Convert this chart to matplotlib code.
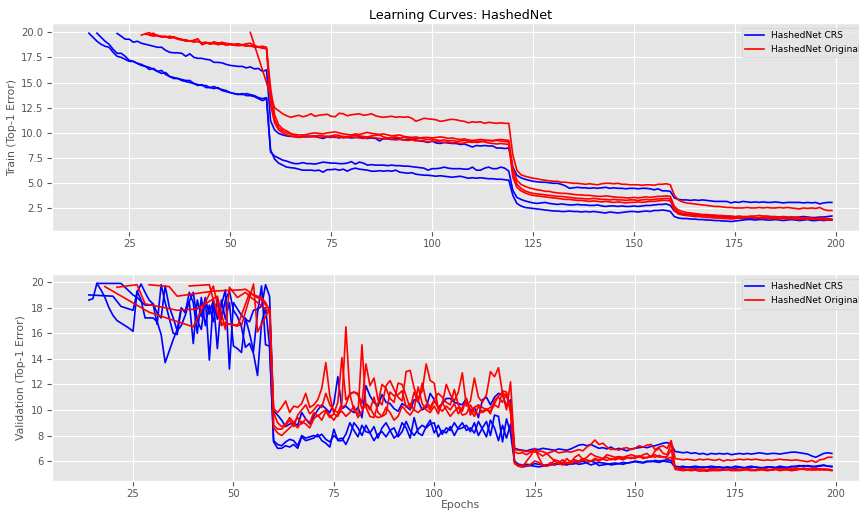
import numpy as np
import matplotlib.pyplot as plt

plt.style.use('ggplot')

N = None  # epoch where the error was above 20 and got dropped

# ---- train (top-1 error), one value per epoch, starting at *_start ----
train_crs_start = [15, 17, 22]
train_crs = [
    [19.9, 19.5, 19.1, 18.8, 18.6,
     18.5, 18.0, 17.6, 17.5, 17.3, 17.1, 17.1, 16.9, 16.7, 16.6,
     16.3, 16.4, 16.1, 15.9, 16.0, 15.6, 15.5, 15.4, 15.2, 15.1,
     15.0, 14.9, 14.8, 14.7, 14.7, 14.5, 14.4, 14.5, 14.2, 14.1,
     14.0, 13.9, 13.8, 13.9, 13.7, 13.7, 13.6, 13.4, 13.2, 13.4,
     8.3, 7.4, 7.0, 6.8, 6.6, 6.55, 6.5, 6.4, 6.3, 6.3,
     6.3, 6.25, 6.3, 6.1, 6.35, 6.35, 6.4, 6.3, 6.4, 6.2,
     6.4, 6.5, 6.4, 6.35, 6.3, 6.2, 6.2, 6.25, 6.2, 6.25,
     6.2, 6.3, 6.1, 6.05, 6.0, 6.05, 5.9, 5.85, 5.8, 5.8,
     5.75, 5.7, 5.75, 5.7, 5.65, 5.6, 5.65, 5.7, 5.6, 5.5,
     5.55, 5.5, 5.55, 5.5, 5.45, 5.45, 5.4, 5.4, 5.35, 5.3,
     3.8, 3.0, 2.75, 2.6, 2.55, 2.5, 2.45, 2.4, 2.35, 2.3,
     2.25, 2.25, 2.2, 2.2, 2.25, 2.2, 2.2, 2.15, 2.2, 2.15,
     2.2, 2.15, 2.1, 2.05, 2.15, 2.1, 2.05, 2.1, 2.15, 2.2,
     2.2, 2.15, 2.2, 2.25, 2.2, 2.3, 2.3, 2.35, 2.3, 2.2,
     1.7, 1.55, 1.5, 1.5, 1.45, 1.45, 1.4, 1.4, 1.35, 1.35,
     1.3, 1.3, 1.25, 1.25, 1.2, 1.25, 1.3, 1.35, 1.4, 1.4,
     1.35, 1.4, 1.4, 1.35, 1.35, 1.4, 1.35, 1.3, 1.35, 1.4,
     1.35, 1.3, 1.35, 1.4, 1.3, 1.3, 1.35, 1.3, 1.35, 1.35],
    [19.9, 19.5, 19.1,
     18.8, 18.3, 17.9, 17.9, 17.6, 17.2, 17.1, 16.9, 16.8, 16.6,
     16.5, 16.3, 16.1, 16.2, 15.8, 15.6, 15.4, 15.4, 15.3, 15.2,
     15.2, 14.9, 14.7, 14.8, 14.5, 14.5, 14.6, 14.4, 14.3, 14.2,
     14.0, 13.9, 13.85, 13.8, 13.9, 13.8, 13.7, 13.5, 13.4, 13.5,
     8.1, 7.7, 7.5, 7.3, 7.2, 7.05, 6.95, 6.95, 7.05, 6.95,
     6.95, 6.9, 7.0, 7.1, 7.05, 7.0, 7.0, 6.95, 6.95, 7.0,
     7.15, 6.9, 7.1, 7.0, 6.8, 6.85, 6.8, 6.8, 6.8, 6.75,
     6.8, 6.75, 6.75, 6.7, 6.7, 6.65, 6.6, 6.55, 6.5, 6.3,
     6.45, 6.45, 6.5, 6.6, 6.5, 6.45, 6.45, 6.45, 6.4, 6.4,
     6.6, 6.3, 6.3, 6.5, 6.6, 6.45, 6.45, 6.6, 6.5, 6.2,
     4.3, 3.6, 3.4, 3.25, 3.15, 3.05, 3.0, 3.05, 3.1, 3.0,
     2.95, 2.9, 2.95, 2.9, 2.85, 2.85, 2.9, 2.85, 2.85, 2.8,
     2.8, 2.85, 2.75, 2.7, 2.75, 2.75, 2.7, 2.75, 2.7, 2.7,
     2.75, 2.7, 2.75, 2.8, 2.8, 2.85, 2.9, 2.9, 2.95, 2.8,
     2.25, 2.05, 1.95, 1.9, 1.9, 1.85, 1.85, 1.8, 1.8, 1.8,
     1.75, 1.75, 1.7, 1.7, 1.7, 1.65, 1.55, 1.5, 1.5, 1.5,
     1.55, 1.5, 1.55, 1.6, 1.55, 1.6, 1.6, 1.65, 1.6, 1.65,
     1.6, 1.65, 1.7, 1.65, 1.6, 1.6, 1.65, 1.65, 1.7, 1.75],
    [19.87, 19.6, 19.3, 19.3, 19.0, 19.1, 18.9, 18.8,
     18.7, 18.6, 18.5, 18.5, 18.2, 18.0, 17.95, 17.95, 17.9, 17.6,
     17.85, 17.5, 17.4, 17.4, 17.3, 17.25, 17.0, 17.0, 16.95, 16.8,
     16.7, 16.65, 16.6, 16.6, 16.45, 16.55, 16.35, 16.4, 16.1, 16.25,
     11.2, 10.3, 9.95, 9.8, 9.7, 9.65, 9.65, 9.6, 9.65, 9.6,
     9.65, 9.7, 9.55, 9.45, 9.6, 9.55, 9.6, 9.5, 9.65, 9.55,
     9.5, 9.55, 9.6, 9.5, 9.45, 9.5, 9.45, 9.2, 9.45, 9.4,
     9.35, 9.45, 9.4, 9.3, 9.35, 9.4, 9.3, 9.2, 9.15, 9.05,
     9.2, 9.0, 8.95, 9.05, 9.0, 8.95, 8.95, 8.85, 8.9, 8.75,
     8.6, 8.75, 8.7, 8.75, 8.7, 8.7, 8.5, 8.5, 8.45, 8.5,
     6.6, 5.8, 5.55, 5.4, 5.3, 5.2, 5.15, 5.1, 5.1, 5.05,
     5.0, 5.0, 4.9, 4.75, 4.5, 4.55, 4.6, 4.55, 4.55, 4.5,
     4.55, 4.5, 4.55, 4.6, 4.5, 4.55, 4.5, 4.5, 4.45, 4.5,
     4.5, 4.45, 4.5, 4.5, 4.45, 4.35, 4.45, 4.25, 4.25, 4.2,
     3.55, 3.4, 3.35, 3.35, 3.3, 3.35, 3.3, 3.35, 3.3, 3.25,
     3.2, 3.2, 3.2, 3.2, 3.05, 3.15, 3.1, 3.2, 3.15, 3.1,
     3.15, 3.1, 3.15, 3.1, 3.1, 3.15, 3.1, 3.05, 3.1, 3.1,
     3.1, 3.1, 3.05, 3.1, 3.05, 3.1, 2.95, 3.05, 3.1, 3.1],
]

train_orig_start = [55, 28, 29, 30]
train_orig = [
    [19.97, N, N, N, N,
     N, 12.5, 12.2, 11.9, 11.7, 11.55, 11.65, 11.75, 11.6, 11.7,
     11.9, 11.65, 11.75, 11.8, 11.85, 11.65, 11.6, 11.95, 11.9, 11.7,
     11.8, 11.85, 11.9, 11.75, 11.8, 11.9, 11.7, 11.6, 11.55, 11.6,
     11.65, 11.55, 11.6, 11.55, 11.6, 11.45, 11.15, 11.3, 11.45, 11.4,
     11.35, 11.3, 11.15, 11.2, 11.3, 11.35, 11.3, 11.2, 11.15, 11.0,
     11.1, 11.05, 11.1, 10.95, 11.05, 11.0, 10.95, 11.0, 10.95, 10.95,
     7.8, 6.3, 5.85, 5.7, 5.6, 5.5, 5.45, 5.35, 5.3, 5.25,
     5.2, 5.2, 5.1, 5.1, 5.05, 5.0, 5.0, 4.95, 4.9, 4.95,
     4.9, 4.85, 4.95, 5.0, 5.0, 4.95, 5.0, 4.9, 4.9, 4.85,
     4.85, 4.85, 4.8, 4.85, 4.85, 4.8, 4.9, 4.9, 4.95, 4.85,
     3.8, 3.35, 3.15, 3.05, 3.0, 2.95, 2.9, 2.85, 2.8, 2.75,
     2.7, 2.7, 2.65, 2.6, 2.6, 2.55, 2.55, 2.55, 2.6, 2.55,
     2.55, 2.6, 2.55, 2.6, 2.55, 2.55, 2.6, 2.55, 2.6, 2.55,
     2.5, 2.45, 2.55, 2.5, 2.55, 2.5, 2.6, 2.4, 2.3, 2.3],
    [19.7, 19.85,
     19.95, 19.7, 19.65, 19.6, 19.5, 19.6, 19.5, 19.4, 19.3, 19.15,
     19.1, 19.2, 19.35, 18.75, 18.9, 18.95, 18.85, 18.9, 19.0, 18.85,
     18.85, 18.8, 18.8, 18.75, 18.85, 18.9, 18.6, 18.55, 18.6, 18.5,
     13.5, 11.3, 10.5, 10.2, 10.0, 9.9, 9.85, 9.8, 9.8, 9.85,
     9.95, 10.0, 9.95, 9.9, 10.0, 10.05, 10.1, 10.0, 9.9, 9.85,
     9.8, 9.9, 9.85, 9.95, 10.05, 9.95, 9.9, 9.85, 9.9, 9.8,
     9.7, 9.75, 9.8, 9.65, 9.6, 9.55, 9.6, 9.5, 9.55, 9.55,
     9.5, 9.55, 9.6, 9.55, 9.45, 9.5, 9.4, 9.35, 9.4, 9.3,
     9.25, 9.3, 9.35, 9.3, 9.25, 9.25, 9.3, 9.35, 9.3, 9.25,
     6.5, 5.3, 4.9, 4.7, 4.55, 4.45, 4.35, 4.3, 4.2, 4.2,
     4.1, 4.05, 4.0, 4.0, 3.95, 3.9, 3.85, 3.85, 3.8, 3.8,
     3.75, 3.7, 3.7, 3.75, 3.7, 3.65, 3.6, 3.6, 3.55, 3.55,
     3.6, 3.55, 3.6, 3.65, 3.6, 3.65, 3.7, 3.7, 3.75, 3.7,
     2.7, 2.35, 2.2, 2.1, 2.05, 2.0, 1.95, 1.9, 1.9, 1.85,
     1.85, 1.8, 1.8, 1.75, 1.75, 1.7, 1.75, 1.7, 1.7, 1.75,
     1.75, 1.8, 1.75, 1.75, 1.7, 1.7, 1.65, 1.7, 1.65, 1.6,
     1.65, 1.6, 1.55, 1.6, 1.55, 1.5, 1.55, 1.5, 1.5, 1.45],
    [19.8,
     19.75, 19.9, 19.6, 19.55, 19.6, 19.45, 19.55, 19.35, 19.2, 19.25,
     19.1, 19.15, 19.05, 18.95, 19.0, 18.85, 19.05, 18.9, 18.8, 18.9,
     18.8, 18.75, 18.85, 18.7, 18.75, 18.6, 18.7, 18.5, 18.45, 18.4,
     14.5, 11.8, 10.8, 10.4, 10.2, 9.95, 9.75, 9.6, 9.65, 9.7,
     9.6, 9.65, 9.75, 9.7, 9.65, 9.7, 9.8, 9.75, 9.6, 9.65,
     9.7, 9.75, 9.7, 9.65, 9.6, 9.7, 9.75, 9.8, 9.6, 9.5,
     9.55, 9.6, 9.5, 9.55, 9.5, 9.4, 9.45, 9.5, 9.4, 9.35,
     9.4, 9.3, 9.25, 9.3, 9.2, 9.25, 9.15, 9.2, 9.25, 9.2,
     9.15, 9.05, 9.1, 9.2, 9.25, 9.2, 9.25, 9.2, 9.15, 9.1,
     6.0, 4.9, 4.5, 4.25, 4.1, 4.0, 3.95, 3.9, 3.85, 3.8,
     3.75, 3.7, 3.7, 3.65, 3.6, 3.55, 3.5, 3.5, 3.45, 3.45,
     3.5, 3.45, 3.4, 3.4, 3.35, 3.4, 3.35, 3.35, 3.3, 3.35,
     3.35, 3.3, 3.35, 3.4, 3.35, 3.4, 3.45, 3.45, 3.5, 3.45,
     2.5, 2.15, 2.0, 1.95, 1.9, 1.85, 1.8, 1.8, 1.75, 1.75,
     1.7, 1.65, 1.65, 1.6, 1.6, 1.55, 1.6, 1.55, 1.6, 1.6,
     1.55, 1.6, 1.65, 1.6, 1.6, 1.55, 1.6, 1.55, 1.5, 1.55,
     1.5, 1.55, 1.5, 1.45, 1.5, 1.45, 1.4, 1.45, 1.4, 1.4],
    [19.7, 19.6, 19.7, 19.5, 19.55, 19.4, 19.45, 19.3, 19.25, 19.1,
     19.15, 19.0, 19.1, 18.9, 18.95, 18.8, 18.9, 18.75, 18.85, 18.7,
     18.75, 18.7, 18.65, 18.7, 18.6, 18.65, 18.5, 18.55, 18.4, 18.35,
     12.8, 11.0, 10.3, 10.0, 9.8, 9.7, 9.6, 9.55, 9.6, 9.65,
     9.7, 9.6, 9.55, 9.6, 9.65, 9.6, 9.55, 9.6, 9.5, 9.55,
     9.6, 9.55, 9.5, 9.45, 9.5, 9.55, 9.5, 9.45, 9.4, 9.45,
     9.35, 9.3, 9.35, 9.3, 9.25, 9.3, 9.2, 9.25, 9.2, 9.1,
     9.15, 9.2, 9.1, 9.05, 9.1, 9.0, 9.05, 8.95, 9.0, 9.1,
     9.05, 9.15, 9.2, 9.1, 9.0, 8.95, 8.9, 8.95, 8.9, 8.85,
     5.6, 4.6, 4.25, 4.05, 3.9, 3.8, 3.75, 3.7, 3.65, 3.6,
     3.55, 3.5, 3.45, 3.4, 3.4, 3.35, 3.3, 3.3, 3.25, 3.2,
     3.25, 3.2, 3.15, 3.2, 3.15, 3.1, 3.15, 3.1, 3.05, 3.1,
     3.1, 3.15, 3.1, 3.15, 3.2, 3.2, 3.25, 3.3, 3.3, 3.25,
     2.3, 1.95, 1.85, 1.8, 1.75, 1.7, 1.7, 1.65, 1.6, 1.6,
     1.55, 1.55, 1.5, 1.5, 1.45, 1.5, 1.55, 1.6, 1.6, 1.65,
     1.6, 1.55, 1.5, 1.55, 1.5, 1.5, 1.45, 1.5, 1.45, 1.5,
     1.45, 1.4, 1.45, 1.5, 1.45, 1.4, 1.45, 1.35, 1.4, 1.4],
]

# ---- validation (top-1 error) ----
val_crs_start = [14, 14, 16]
val_crs = [
    [18.6, 18.7, 19.9, N, N, N,
     N, N, 19.9, 19.6, 19.3, 19.0, 18.8, 18.5, 18.2, 18.2,
     18.3, 17.6, 17.2, 19.7, 18.1, 17.2, 16.2, 16.6, 17.4, 18.5,
     19.2, 17.0, 16.3, 18.7, 17.5, 18.6, 17.1, 18.2, 19.4, 13.2,
     18.4, 17.9, 17.4, 17.1, 16.9, 17.8, 17.9, 18.1, 19.8, 18.9,
     9.9, 9.6, 9.2, 8.7, 8.9, 9.0, 8.8, 9.8, 9.3, 8.9,
     9.5, 10.0, 10.4, 10.1, 9.8, 10.5, 12.6, 10.1, 10.3, 10.0,
     9.8, 10.2, 9.4, 11.9, 11.1, 10.6, 10.3, 11.2, 10.6, 10.5,
     10.1, 9.9, 10.5, 10.3, 10.0, 10.8, 10.7, 10.0, 10.2, 11.3,
     10.8, 10.2, 10.5, 10.9, 10.9, 10.6, 10.5, 10.4, 10.9, 9.9,
     10.2, 9.4, 10.8, 11.0, 10.4, 11.0, 11.3, 11.2, 10.3, 10.8,
     7.0, 6.9, 6.85, 6.8, 6.9, 6.95, 6.9, 7.0, 6.95, 6.9,
     6.85, 6.95, 6.9, 6.85, 6.95, 7.1, 7.25, 7.3, 7.2, 7.3,
     7.15, 7.0, 7.05, 6.95, 7.1, 6.9, 7.0, 6.9, 6.8, 6.95,
     7.0, 7.05, 7.1, 7.05, 7.15, 7.2, 7.3, 7.4, 7.45, 7.3,
     6.75, 6.7, 6.65, 6.7, 6.6, 6.65, 6.55, 6.6, 6.5, 6.6,
     6.55, 6.6, 6.55, 6.6, 6.5, 6.55, 6.6, 6.55, 6.6, 6.55,
     6.6, 6.65, 6.6, 6.55, 6.6, 6.6, 6.55, 6.6, 6.65, 6.7,
     6.7, 6.65, 6.6, 6.55, 6.4, 6.3, 6.45, 6.6, 6.65, 6.6],
    [19.0, N, N, N, N, N,
     18.9, 18.5, 18.1, 18.0, 17.9, 17.8, 19.2, 19.85, 19.2, 18.6,
     18.3, 16.7, 19.8, 18.4, 17.2, 16.0, 15.9, 17.9, 17.8, 18.5,
     15.2, 18.6, 17.3, 18.8, 13.9, 18.6, 14.8, 18.6, 17.1, 18.4,
     15.0, 14.8, 14.5, 17.2, 16.0, 14.6, 17.6, 19.7, 15.1, 15.0,
     7.6, 7.3, 7.2, 7.5, 7.7, 7.6, 7.2, 8.0, 7.8, 7.9,
     8.0, 7.9, 8.1, 7.7, 7.5, 8.0, 7.7, 7.8, 7.3, 8.0,
     9.0, 8.6, 8.0, 8.8, 8.2, 7.6, 8.1, 8.3, 7.9, 8.4,
     8.6, 7.9, 8.3, 9.1, 8.4, 8.0, 8.5, 8.8, 8.6, 8.9,
     9.0, 7.9, 8.4, 8.2, 8.7, 8.0, 8.6, 9.0, 8.4, 8.6,
     8.2, 9.1, 8.5, 7.9, 9.2, 8.6, 7.6, 8.8, 7.8, 8.9,
     6.0, 5.75, 5.7, 5.75, 5.7, 5.8, 5.75, 5.7, 5.65, 5.7,
     5.8, 5.75, 5.9, 5.85, 5.75, 5.8, 5.9, 6.0, 5.85, 5.7,
     5.8, 5.9, 5.85, 5.8, 5.7, 5.75, 5.8, 5.9, 5.85, 5.9,
     5.95, 5.9, 5.85, 5.95, 6.0, 5.95, 5.9, 6.0, 5.95, 5.9,
     5.5, 5.45, 5.5, 5.55, 5.5, 5.45, 5.5, 5.55, 5.5, 5.45,
     5.5, 5.55, 5.5, 5.55, 5.5, 5.6, 5.55, 5.5, 5.45, 5.5,
     5.55, 5.5, 5.45, 5.5, 5.55, 5.5, 5.6, 5.55, 5.5, 5.55,
     5.6, 5.65, 5.6, 5.65, 5.6, 5.55, 5.6, 5.65, 5.6, 5.55],
    [19.9, 19.4, 18.8, 18.0,
     17.4, 17.0, 16.8, 16.6, 16.4, 16.15, 19.3, 18.6, 17.2, 17.2,
     17.2, 16.9, 15.9, 13.7, 14.6, 15.5, 16.3, 18.0, 17.6, 19.2,
     18.4, 16.0, 18.8, 16.6, 18.2, 16.9, 18.7, 17.1, 18.6, 19.3,
     17.8, 17.3, 16.5, 14.9, 15.2, 14.4, 12.7, 16.8, 18.0, 15.0,
     7.5, 7.0, 7.0, 7.2, 7.1, 7.3, 7.0, 7.9, 7.6, 7.7,
     7.8, 8.1, 7.6, 7.4, 7.1, 8.5, 7.6, 7.6, 8.1, 9.0,
     8.4, 7.9, 8.8, 8.3, 8.2, 8.7, 7.8, 8.6, 9.0, 8.4,
     7.8, 8.1, 9.0, 8.6, 7.8, 9.4, 8.2, 8.0, 8.7, 9.2,
     8.2, 8.8, 8.1, 8.6, 8.4, 9.0, 8.5, 8.6, 8.8, 8.3,
     9.0, 8.0, 8.6, 9.1, 8.0, 9.6, 9.5, 7.5, 9.3, 8.2,
     5.9, 5.6, 5.55, 5.6, 5.65, 5.6, 5.55, 5.6, 5.7, 5.75,
     5.7, 5.8, 5.75, 5.7, 5.8, 5.85, 5.75, 5.8, 5.9, 6.0,
     5.9, 5.65, 5.7, 5.75, 5.8, 5.85, 5.8, 5.75, 5.85, 5.9,
     6.0, 5.95, 5.9, 6.0, 5.95, 6.05, 6.0, 6.05, 6.1, 6.05,
     5.6, 5.55, 5.6, 5.5, 5.55, 5.6, 5.55, 5.5, 5.55, 5.6,
     5.55, 5.5, 5.45, 5.5, 5.4, 5.45, 5.5, 5.45, 5.55, 5.6,
     5.5, 5.45, 5.5, 5.55, 5.5, 5.45, 5.5, 5.45, 5.5, 5.6,
     5.55, 5.6, 5.65, 5.6, 5.55, 5.6, 5.65, 5.7, 5.6, 5.6],
]

val_orig_start = [18, 21, 29, 39]
val_orig = [
    [19.65, N,
     N, N, N, N, N, N, N, N, N, 17.65,
     N, N, N, N, N, N, N, N, N, N,
     16.5, N, N, N, N, 19.7, N, 16.8, N, N,
     N, N, 16.6, N, N, 19.85, 16.1, N, N, 17.9,
     10.1, 9.8, 10.2, 10.7, 9.8, 10.3, 10.2, 10.5, 11.3, 10.2,
     10.4, 10.8, 11.7, 13.7, 11.1, 9.7, 10.6, 14.1, 10.8, 11.2,
     11.4, 11.3, 10.5, 13.6, 11.9, 12.5, 10.8, 10.4, 11.9, 12.3,
     11.6, 11.0, 10.7, 13.0, 13.1, 11.7, 10.9, 11.5, 13.6, 12.3,
     12.1, 10.0, 10.5, 12.0, 11.2, 10.7, 11.4, 12.9, 10.3, 10.7,
     12.5, 11.0, 10.6, 11.2, 13.0, 12.6, 13.3, 11.3, 10.0, 12.2,
     6.9, 6.85, 6.8, 6.75, 6.8, 6.7, 6.8, 6.75, 6.6, 6.7,
     6.8, 6.65, 6.7, 6.75, 6.7, 6.8, 6.9, 6.8, 7.1, 7.3,
     7.65, 7.3, 7.4, 7.1, 6.9, 6.95, 6.85, 7.0, 7.05, 6.9,
     7.0, 7.2, 7.1, 7.25, 7.3, 6.9, 7.1, 7.2, 7.0, 7.6,
     6.2, 6.15, 6.1, 6.15, 6.1, 6.05, 6.15, 6.1, 6.15, 6.1,
     6.05, 6.15, 6.0, 6.1, 6.05, 6.1, 6.15, 6.1, 6.15, 6.1,
     6.15, 6.1, 6.05, 6.1, 6.05, 6.1, 6.15, 6.1, 6.1, 6.05,
     6.1, 6.05, 6.0, 5.95, 6.05, 5.9, 6.1, 6.15, 6.3, 6.3],
    [19.6, N, N, N, N, 19.8, N, 18.3, N,
     N, N, N, N, N, N, 17.8, N, N, N,
     N, 17.9, N, N, N, N, 18.9, N, 16.3, 19.6,
     N, 18.8, N, 19.2, 18.9, N, N, N, 17.9, 17.7,
     8.8, 8.5, 8.5, 8.8, 9.2, 8.7, 9.6, 10.0, 10.4, 9.7,
     10.0, 10.4, 10.2, 11.3, 10.4, 10.0, 9.8, 10.5, 16.5, 11.2,
     10.0, 9.6, 15.1, 10.2, 9.5, 9.4, 10.5, 12.0, 11.7, 10.9,
     10.6, 12.1, 12.0, 11.1, 10.1, 11.4, 10.6, 12.1, 10.7, 10.2,
     10.8, 11.3, 11.0, 10.6, 10.4, 11.6, 10.4, 9.9, 10.9, 9.6,
     10.2, 10.4, 10.2, 10.0, 9.9, 10.4, 10.2, 11.5, 11.4, 9.9,
     5.9, 5.65, 5.7, 5.6, 5.75, 6.0, 5.9, 5.65, 5.6, 5.7,
     6.1, 6.0, 5.8, 6.2, 5.9, 6.3, 6.5, 6.1, 6.3, 6.6,
     6.4, 6.3, 6.2, 6.5, 6.4, 6.3, 6.35, 6.3, 6.4, 6.5,
     6.4, 6.3, 6.5, 6.6, 6.3, 6.8, 7.0, 6.6, 6.5, 7.4,
     5.5, 5.45, 5.4, 5.35, 5.4, 5.3, 5.35, 5.4, 5.3, 5.35,
     5.4, 5.35, 5.3, 5.35, 5.25, 5.3, 5.35, 5.3, 5.4, 5.35,
     5.3, 5.35, 5.4, 5.35, 5.3, 5.35, 5.4, 5.35, 5.4, 5.35,
     5.3, 5.4, 5.45, 5.4, 5.35, 5.3, 5.4, 5.35, 5.3, 5.25],
    [19.8,
     N, N, N, N, 19.65, N, 18.9, N, N, N,
     N, N, N, N, N, 19.3, N, N, N, N,
     N, N, 19.4, 19.45, N, 19.0, N, 18.8, 18.4, 17.8,
     8.6, 8.2, 8.0, 8.3, 8.6, 8.9, 8.6, 9.1, 8.9, 8.6,
     9.3, 9.6, 9.2, 9.9, 9.4, 9.7, 9.5, 10.2, 10.4, 11.3,
     11.4, 11.2, 10.1, 10.5, 10.2, 9.6, 9.4, 9.5, 9.7, 11.4,
     11.1, 11.2, 11.5, 10.2, 10.5, 10.0, 9.8, 10.1, 10.4, 10.0,
     10.7, 10.2, 9.9, 10.3, 10.0, 10.5, 9.7, 10.2, 10.7, 10.0,
     9.5, 10.3, 9.8, 10.0, 10.2, 10.5, 11.1, 11.4, 11.0, 10.4,
     5.8, 5.6, 5.55, 6.0, 6.4, 7.0, 6.3, 5.7, 5.6, 5.9,
     5.7, 5.9, 6.1, 5.8, 6.0, 6.1, 6.0, 6.2, 6.1, 6.0,
     6.2, 6.1, 6.15, 6.05, 6.2, 6.1, 6.2, 6.1, 6.25, 6.3,
     6.2, 6.4, 6.2, 6.3, 6.35, 6.5, 6.3, 6.35, 6.2, 6.3,
     5.4, 5.35, 5.3, 5.3, 5.25, 5.3, 5.35, 5.25, 5.2, 5.3,
     5.25, 5.3, 5.35, 5.3, 5.4, 5.3, 5.25, 5.3, 5.35, 5.3,
     5.25, 5.3, 5.35, 5.3, 5.35, 5.4, 5.3, 5.35, 5.3, 5.25,
     5.3, 5.35, 5.4, 5.35, 5.3, 5.35, 5.3, 5.4, 5.35, 5.3],
    [19.7,
     N, N, N, N, 19.8, 18.6, N, 16.6, 16.8, N,
     N, 16.55, N, N, 19.15, N, N, 18.6, N, 17.85,
     9.8, 9.0, 8.7, 8.9, 9.4, 9.0, 9.4, 8.9, 9.3, 9.0,
     9.8, 9.5, 9.8, 10.0, 9.6, 9.2, 9.7, 9.9, 9.5, 9.8,
     10.3, 9.4, 9.9, 10.5, 10.0, 11.0, 9.8, 9.5, 10.2, 9.8,
     9.2, 9.5, 10.3, 9.9, 9.6, 10.1, 11.8, 10.5, 10.0, 9.8,
     10.3, 9.7, 10.6, 10.0, 9.5, 9.9, 10.2, 9.6, 9.7, 10.4,
     9.8, 9.7, 9.9, 10.1, 9.7, 10.8, 11.0, 10.6, 11.3, 9.8,
     6.7, 6.6, 6.65, 6.5, 6.7, 6.9, 6.6, 6.4, 6.6, 6.3,
     6.0, 5.8, 5.7, 5.9, 5.75, 6.0, 5.9, 6.1, 5.95, 6.0,
     6.1, 6.0, 6.2, 6.3, 6.1, 6.2, 6.3, 6.2, 6.3, 6.2,
     6.35, 6.4, 6.3, 6.25, 6.4, 6.3, 6.45, 6.3, 6.35, 6.9,
     5.35, 5.3, 5.25, 5.3, 5.35, 5.3, 5.2, 5.25, 5.3, 5.25,
     5.3, 5.25, 5.3, 5.35, 5.3, 5.25, 5.3, 5.4, 5.3, 5.25,
     5.3, 5.35, 5.3, 5.25, 5.3, 5.35, 5.25, 5.3, 5.35, 5.4,
     5.45, 5.4, 5.35, 5.3, 5.4, 5.45, 5.35, 5.3, 5.35, 5.3],
]


def draw(ax, start, vals, color, label=None):
    y = np.array(vals, dtype=float)
    x = np.arange(start, start + len(y))
    keep = ~np.isnan(y)
    ax.plot(x[keep], y[keep], color=color, lw=1.2, label=label)


fig = plt.figure(figsize=(8.59, 5.12), dpi=100)
ax1 = fig.add_axes([0.0602, 0.5488, 0.9514, 0.4063])
ax2 = fig.add_axes([0.0602, 0.0611, 0.9514, 0.4037])

panels = [
    (ax1, train_crs_start, train_crs, train_orig_start, train_orig),
    (ax2, val_crs_start, val_crs, val_orig_start, val_orig),
]
for ax, cs, cv, os_, ov in panels:
    for i, (s, v) in enumerate(zip(cs, cv)):
        draw(ax, s, v, 'blue', 'HashedNet CRS' if i == 0 else None)
    for i, (s, v) in enumerate(zip(os_, ov)):
        draw(ax, s, v, 'red', 'HashedNet Original' if i == 0 else None)
    ax.tick_params(labelsize=7.2, pad=2.5)
    ax.legend(loc='upper right', fontsize=6.6)

ax1.set_title('Learning Curves: HashedNet', fontsize=9.2, pad=3)
ax1.set_ylabel('Train (Top-1 Error)', fontsize=7.8, labelpad=3)
ax2.set_ylabel('Validation (Top-1 Error)', fontsize=7.8, labelpad=3)
ax2.set_xlabel('Epochs', fontsize=7.8, labelpad=1)

fig.savefig('out.png', dpi=100)
